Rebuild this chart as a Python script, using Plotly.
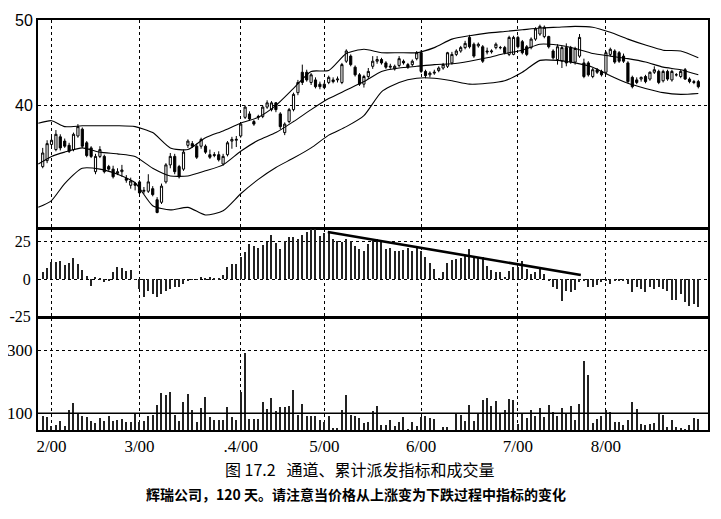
import plotly.graph_objects as go
from plotly.subplots import make_subplots

# daily candles, Pfizer, late Jan 2000 .. end Aug 2000 (index = trading day)
opens = [32.8, 33.5, 35.4, 34.8, 36.3, 35.8, 35.3, 34.8, 36.4, 37.2,
         35.6, 35.0, 32.2, 34.0, 34.0, 32.8, 32.5, 32.0, 32.2, 31.4,
         30.6, 30.8, 31.0, 29.9, 29.9, 30.2, 28.9, 28.6, 31.0, 33.0,
         34.0, 32.8, 32.5, 35.3, 35.5, 35.2, 35.2, 35.2, 34.2, 34.1,
         34.2, 33.1, 34.2, 35.8, 35.9, 36.4, 38.6, 39.0, 38.1, 38.6,
         38.7, 39.8, 39.5, 40.3, 39.0, 36.8, 38.1, 39.5, 41.5, 43.9,
         43.9, 42.7, 43.0, 42.5, 42.5, 42.7, 43.0, 43.0, 42.7, 45.2,
         45.8, 44.5, 43.6, 42.5, 43.4, 44.6, 45.2, 45.4, 45.0, 44.5,
         44.3, 44.7, 45.2, 44.8, 44.8, 45.5, 46.2, 44.0, 43.6, 43.8,
         44.1, 44.4, 44.6, 45.0, 46.0, 46.4, 46.8, 48.0, 47.2, 47.0,
         46.9, 46.4, 46.3, 46.8, 46.8, 46.8, 46.0, 46.0, 48.0, 47.5,
         46.9, 46.8, 47.8, 48.4, 48.1, 48.1, 46.4, 45.4, 45.2, 46.8,
         46.8, 45.1, 45.8, 45.0, 45.0, 43.4, 44.2, 44.0, 43.9, 46.0,
         46.4, 46.2, 45.8, 45.0, 43.3, 43.0, 43.1, 43.4, 43.1, 43.9,
         44.0, 42.9, 44.0, 43.0, 43.6, 43.4, 44.2, 43.1, 42.8, 42.8]
highs = [35.0, 35.9, 36.3, 37.1, 36.6, 36.1, 35.6, 36.8, 37.8, 37.4,
         35.8, 35.2, 34.3, 35.2, 34.2, 33.0, 32.9, 32.6, 33.0, 31.8,
         31.5, 31.0, 31.2, 30.4, 31.9, 30.5, 29.2, 30.8, 33.2, 34.4,
         34.3, 33.0, 34.8, 36.0, 35.8, 35.5, 36.2, 35.4, 34.8, 34.5,
         34.6, 34.3, 35.8, 36.3, 36.4, 38.0, 40.0, 39.3, 38.3, 38.9,
         40.0, 40.6, 40.5, 40.4, 39.2, 38.0, 39.7, 41.5, 43.0, 44.8,
         44.2, 43.8, 43.3, 42.8, 42.7, 43.5, 43.3, 43.4, 45.0, 46.6,
         46.0, 44.7, 43.8, 43.6, 44.4, 45.8, 45.8, 45.6, 45.2, 44.9,
         44.8, 45.8, 45.4, 45.0, 45.4, 46.4, 46.5, 44.2, 44.0, 44.2,
         44.6, 45.0, 46.3, 46.3, 46.6, 47.0, 47.6, 48.3, 47.4, 47.4,
         47.1, 46.8, 46.6, 47.4, 47.0, 47.0, 48.2, 48.2, 48.2, 47.7,
         47.1, 48.0, 49.2, 49.5, 49.4, 48.2, 46.6, 47.2, 47.0, 47.3,
         47.0, 46.9, 48.4, 45.5, 45.2, 44.4, 44.4, 44.2, 46.4, 46.8,
         46.6, 46.4, 46.1, 45.2, 43.5, 43.3, 43.4, 43.6, 44.0, 44.6,
         44.2, 44.2, 44.2, 44.2, 43.8, 44.2, 44.4, 43.3, 43.0, 43.0]
lows = [32.6, 33.2, 34.9, 34.6, 34.7, 35.0, 34.4, 34.6, 36.2, 35.0,
        33.9, 33.8, 31.9, 33.8, 32.0, 32.3, 31.4, 31.8, 31.6, 30.9,
        30.2, 30.0, 29.5, 29.6, 29.7, 29.3, 27.3, 28.4, 30.8, 32.6,
        31.9, 31.4, 32.3, 35.0, 35.0, 33.7, 34.9, 34.3, 33.7, 33.9,
        33.4, 32.9, 34.0, 34.9, 35.1, 36.2, 38.4, 38.2, 37.6, 38.3,
        38.5, 39.6, 39.3, 39.2, 37.2, 36.5, 37.9, 39.3, 41.2, 42.4,
        42.8, 42.4, 42.0, 41.9, 41.9, 42.5, 42.6, 42.7, 42.5, 45.0,
        44.6, 43.4, 42.3, 42.1, 43.1, 44.3, 44.9, 44.8, 44.3, 44.3,
        44.1, 44.5, 44.8, 44.3, 44.6, 45.3, 43.8, 43.2, 43.3, 43.6,
        43.9, 44.2, 44.4, 44.8, 45.8, 46.2, 46.6, 46.7, 45.6, 46.8,
        45.0, 46.0, 46.1, 46.6, 46.6, 46.0, 45.8, 45.9, 46.7, 46.0,
        45.8, 46.6, 47.6, 48.2, 47.9, 46.7, 45.4, 44.8, 44.4, 44.6,
        44.9, 44.8, 45.6, 43.2, 43.4, 43.2, 43.7, 43.4, 43.6, 45.8,
        44.9, 45.0, 45.0, 42.6, 42.0, 42.5, 42.8, 42.6, 42.9, 43.7,
        42.5, 42.7, 42.9, 42.8, 43.4, 43.2, 43.0, 42.6, 42.5, 42.0]
closes = [34.4, 35.5, 35.9, 36.6, 35.0, 35.2, 34.6, 36.6, 37.5, 35.2,
          34.1, 34.0, 34.0, 34.8, 32.2, 32.5, 31.6, 32.2, 32.4, 31.2,
          31.1, 30.6, 29.7, 30.0, 31.0, 29.5, 27.4, 30.5, 33.0, 34.0,
          32.2, 31.6, 34.5, 35.8, 35.2, 33.9, 36.0, 34.5, 33.9, 34.2,
          33.6, 34.0, 35.6, 36.0, 36.0, 37.8, 39.8, 38.4, 37.8, 38.7,
          39.8, 40.3, 40.3, 39.5, 37.5, 37.8, 39.5, 41.3, 42.7, 42.7,
          43.0, 43.6, 42.2, 42.2, 42.1, 43.3, 42.8, 43.1, 44.8, 46.4,
          44.8, 43.6, 42.5, 43.4, 44.0, 45.2, 45.4, 45.0, 44.5, 44.6,
          44.6, 45.5, 45.0, 44.5, 45.2, 46.2, 44.0, 43.5, 43.8, 43.9,
          44.4, 44.8, 46.2, 46.0, 46.4, 46.8, 47.3, 46.9, 45.8, 47.2,
          45.2, 46.3, 46.4, 47.2, 46.8, 46.2, 48.0, 48.0, 46.9, 46.2,
          46.0, 47.8, 49.0, 49.3, 49.2, 46.9, 45.6, 46.9, 46.8, 45.0,
          45.1, 46.7, 48.0, 43.4, 43.6, 44.2, 43.9, 43.6, 46.2, 46.6,
          45.1, 45.2, 45.2, 42.8, 42.2, 42.7, 43.3, 42.8, 43.9, 44.2,
          42.7, 44.0, 43.1, 44.0, 43.6, 44.0, 43.1, 42.8, 42.7, 42.2]

# channel lines read at sampled days
band_days = [-1, 2, 5, 9, 13, 17, 21, 25, 29, 33, 37, 41, 45, 49, 53, 57, 61, 65, 69, 73,
             77, 81, 85, 89, 93, 97, 101, 105, 109, 113, 117, 121, 125, 129, 133, 137, 141, 145, 149]
upper_band = [37.9, 38.2, 37.5, 37.6, 37.6, 37.6, 37.5, 36.8, 35.0, 34.8, 36.2, 37.0, 37.9,
              38.6, 40.0, 42.0, 44.0, 44.1, 46.1, 46.6, 46.2, 46.2, 46.2, 46.8, 47.8, 48.2,
              48.5, 48.7, 48.9, 49.1, 49.2, 49.3, 49.2, 48.6, 47.8, 47.1, 46.5, 46.4, 45.6]
mid_band = [33.1, 34.0, 34.5, 35.0, 34.5, 34.3, 34.0, 32.6, 31.7, 31.7, 32.3, 33.0, 34.6,
            35.9, 36.8, 38.1, 39.5, 40.8, 41.8, 42.8, 44.0, 44.4, 44.6, 44.8, 44.9, 45.2,
            45.6, 46.1, 46.5, 47.2, 47.1, 46.7, 46.1, 45.8, 45.5, 45.1, 44.5, 44.2, 43.6]
lower_band = [28.0, 28.8, 30.8, 32.6, 32.5, 31.9, 30.9, 28.2, 27.7, 28.0, 27.1, 27.6, 29.6,
              31.3, 32.7, 33.8, 35.0, 36.5, 37.5, 38.8, 41.6, 42.7, 43.2, 43.2, 42.9, 42.5,
              42.6, 42.9, 43.9, 45.3, 45.3, 45.0, 44.5, 43.5, 42.6, 42.0, 41.5, 41.3, 41.4]

# cumulative accumulation/distribution oscillator
ad_osc = [4.5, 7.4, 11.2, 11.6, 11.8, 9.6, 10.7, 13.8, 10.0, 6.3,
          1.8, -4.5, 1.6, 0.5, -2.2, -0.7, 4.9, 7.8, 7.1, 5.6,
          6.0, -0.5, -6.7, -12.3, -7.8, -10.0, -12.3, -10.0, -7.8, -6.7,
          -5.1, -5.6, -3.3, -1.1, -0.3, -0.5, 1.6, 0.4, 1.1, 0.3,
          0.4, 2.9, 8.3, 10.0, 10.0, 15.0, 18.3, 23.4, 22.3, 20.5,
          22.8, 25.0, 29.7, 23.9, 20.1, 25.7, 27.9, 27.9, 26.8, 29.7,
          31.3, 33.5, 33.5, 29.0, 30.5, 31.3, 26.8, 25.7, 24.6, 26.8,
          25.7, 22.3, 20.1, 19.0, 23.4, 25.7, 26.8, 24.6, 20.1, 20.8,
          18.5, 19.0, 19.4, 20.8, 19.0, 21.2, 19.0, 14.5, 10.5, 6.7,
          0.8, 4.5, 10.5, 13.0, 13.4, 13.8, 15.6, 20.1, 14.5, 15.0,
          14.5, 8.9, 6.0, 4.5, 4.9, 1.6, 5.6, 8.3, 7.8, 12.3,
          6.7, 3.3, 4.5, 6.7, 3.3, -1.6, -5.6, -6.7, -14.5, -7.8,
          -8.9, -7.4, -2.2, -1.6, -5.1, -5.6, -3.8, -2.2, -0.7, -3.3,
          -1.6, -0.7, -0.8, -3.3, -8.9, -5.6, -6.7, -8.9, -5.6, -6.7,
          -5.6, -6.7, -7.8, -14.1, -14.1, -10.0, -15.6, -17.9, -16.7, -19.0]
# hand-drawn falling line over the oscillator peaks
trend_days = [64.8, 122.3]
trend_vals = [31.5, 2.7]

volume = [91.6, 87.4, 57.9, 63.0, 75.8, 58.0, 110.5, 133.7, 97.9, 91.6,
          87.4, 73.7, 68.4, 84.2, 73.7, 89.5, 75.8, 78.9, 81.0, 70.5,
          70.5, 102.0, 70.5, 73.7, 89.5, 94.7, 126.0, 163.0, 158.0, 168.0,
          94.7, 75.8, 134.7, 160.0, 110.5, 70.5, 115.8, 150.5, 87.4, 79.0,
          79.0, 76.8, 121.0, 87.4, 76.8, 168.4, 291.6, 82.0, 82.0, 82.0,
          134.7, 113.7, 147.4, 108.4, 119.0, 119.0, 123.0, 173.7, 94.7, 129.5,
          89.5, 89.5, 89.5, 76.8, 70.5, 91.6, 52.6, 52.6, 110.5, 157.9,
          94.7, 89.5, 84.2, 68.4, 70.5, 107.4, 123.0, 63.0, 63.0, 79.0,
          60.0, 72.6, 87.4, 49.5, 72.6, 60.0, 87.4, 91.6, 84.0, 83.0,
          47.0, 55.8, 55.8, 47.0, 100.0, 94.7, 73.7, 125.0, 73.7, 100.0,
          142.0, 147.0, 123.0, 139.0, 100.0, 110.5, 144.0, 142.0, 66.0, 98.0,
          86.0, 110.5, 91.6, 118.0, 87.4, 125.0, 105.0, 91.6, 115.8, 98.0,
          123.0, 79.0, 129.5, 266.0, 221.0, 68.4, 82.0, 91.6, 110.5, 105.0,
          70.5, 70.5, 64.0, 76.8, 137.0, 113.7, 65.0, 62.0, 66.0, 68.4,
          98.0, 94.7, 55.8, 79.0, 55.8, 52.6, 49.0, 63.0, 84.0, 81.0]

days = list(range(len(closes)))
month_pos = [2, 22, 45, 64, 86, 108, 128]
month_labels = ["2/00", "3/00", ".4/00", "5/00", "6/00", "7/00", "8/00"]
osc_ticks = [-25, 0, 25]
osc_labels = ["-25", "0", "25"]

fig = make_subplots(rows=3, cols=1, shared_xaxes=True, vertical_spacing=0.003,
                    row_heights=[208, 88, 112])

fig.add_trace(go.Candlestick(
    x=days, open=opens, high=highs, low=lows, close=closes,
    increasing=dict(fillcolor="white", line=dict(color="black", width=1)),
    decreasing=dict(fillcolor="black", line=dict(color="black", width=1)),
    whiskerwidth=0, showlegend=False), row=1, col=1)

for band in (upper_band, mid_band, lower_band):
    fig.add_trace(go.Scatter(x=band_days, y=band, mode="lines",
                             line=dict(color="black", width=1.1, shape="spline", smoothing=0.6),
                             showlegend=False, hoverinfo="skip"), row=1, col=1)

fig.add_trace(go.Bar(x=days, y=ad_osc, width=0.3, marker=dict(color="#222222", line_width=0),
                     showlegend=False), row=2, col=1)
fig.add_trace(go.Scatter(x=trend_days, y=trend_vals, mode="lines",
                         line=dict(color="black", width=2.6), showlegend=False), row=2, col=1)

fig.add_trace(go.Bar(x=days, y=volume, width=0.32, marker=dict(color="#222222", line_width=0),
                     showlegend=False), row=3, col=1)
# solid reference line at 100 in the volume panel
fig.add_shape(type="line", xref="x3 domain", yref="y3", x0=0, x1=1, y0=100, y1=100,
              line=dict(color="black", width=1.6))

grid = dict(showgrid=True, gridcolor="black", griddash="dot", gridwidth=1,
            showline=True, mirror=True, linecolor="black", linewidth=2,
            ticks="", zeroline=False, automargin=False)
tick_font = dict(family="Liberation Serif", size=17, color="black")

for r in (1, 2, 3):
    fig.update_xaxes(range=[-1.07, 151.2], tickvals=month_pos, ticktext=month_labels,
                     tickfont=tick_font, showticklabels=(r == 3), rangeslider_visible=False,
                     **grid, row=r, col=1)

fig.update_yaxes(range=[25.6, 50.05], tickvals=[40, 50],
                 tickfont=dict(family="Liberation Sans", size=16, color="black"),
                 **grid, row=1, col=1)
fig.update_yaxes(range=[-25.3, 33.5], tickvals=osc_ticks, ticktext=osc_labels,
                 tickfont=dict(family="Liberation Serif", size=16, color="black"),
                 ticklabelstandoff=2, **grid, row=2, col=1)
fig.update_yaxes(range=[47, 402], tickvals=[100, 300], tickfont=tick_font,
                 **grid, row=3, col=1)

fig.add_annotation(text="图 17.2   通道、累计派发指标和成交量", xref="paper", yref="paper",
                   x=0.48, y=-0.13, showarrow=False,
                   font=dict(family="Noto Sans CJK SC", size=16, color="black"))
fig.add_annotation(text="<b>辉瑞公司，120 天。请注意当价格从上涨变为下跌过程中指标的变化</b>",
                   xref="paper", yref="paper", x=0.475, y=-0.185, showarrow=False,
                   font=dict(family="Noto Sans CJK SC", size=14, color="black"))

# the page body adds an 8px offset, so the margins are trimmed to compensate
fig.update_layout(width=721, height=519, margin=dict(l=30, r=21, t=12, b=97),
                  paper_bgcolor="white", plot_bgcolor="white", bargap=0,
                  showlegend=False)

fig.write_html("out.html")
